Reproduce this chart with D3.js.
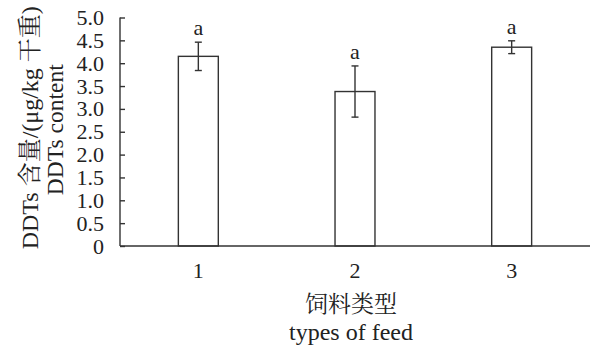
<!DOCTYPE html>
<html>
<head>
<meta charset="utf-8">
<script src="https://cdn.jsdelivr.net/npm/d3@7"></script>
<style>
  html, body { margin: 0; padding: 0; background: #fff; }
  svg text { font-family: "Liberation Serif", "Times New Roman", "Noto Serif CJK SC", "Noto Sans CJK SC", serif; fill: #222; }
</style>
</head>
<body>
<svg id="chart" width="590" height="350"></svg>
<script>
// Feed types and mean DDTs content (μg/kg dry weight) with error bars
const categories = ["1", "2", "3"];
const means = [4.15, 3.38, 4.35];
const errors = [0.31, 0.56, 0.14];
const letters = ["a", "a", "a"];
const yTicks = [0, 0.5, 1.0, 1.5, 2.0, 2.5, 3.0, 3.5, 4.0, 4.5, 5.0];

const svg = d3.select("#chart");
const margin = { left: 120, right: 0, top: 17.5, bottom: 104 };
const W = 590, H = 350;
const ink = "#333";

const x = d3.scaleBand()
  .domain(categories)
  .range([margin.left, W - margin.right])
  .paddingInner(0.745)
  .paddingOuter(0.3725);

const y = d3.scaleLinear()
  .domain([0, 5])
  .range([H - margin.bottom, margin.top]);

// Bars
svg.append("g").selectAll("rect")
  .data(categories)
  .join("rect")
  .attr("x", d => x(d))
  .attr("y", (d, i) => y(means[i]))
  .attr("width", x.bandwidth())
  .attr("height", (d, i) => y(0) - y(means[i]))
  .attr("fill", "#fff")
  .attr("stroke", ink)
  .attr("stroke-width", 1.4);

// Error bars with significance letters
const eb = svg.append("g").attr("stroke", ink).attr("stroke-width", 1.4);
categories.forEach((c, i) => {
  const cx = x(c) + x.bandwidth() / 2;
  const top = y(means[i] + errors[i]);
  const bot = y(means[i] - errors[i]);
  eb.append("line").attr("x1", cx).attr("x2", cx).attr("y1", top).attr("y2", bot);
  eb.append("line").attr("x1", cx - 3.5).attr("x2", cx + 3.5).attr("y1", top).attr("y2", top);
  eb.append("line").attr("x1", cx - 3.5).attr("x2", cx + 3.5).attr("y1", bot).attr("y2", bot);
  svg.append("text")
    .attr("x", cx)
    .attr("y", top - 7)
    .attr("text-anchor", "middle")
    .attr("font-size", 22)
    .text(letters[i]);
});

// Y axis with inward ticks
const yAxis = d3.axisLeft(y)
  .tickValues(yTicks)
  .tickSize(-5)
  .tickPadding(16)
  .tickFormat(d => d === 0 ? "0" : d3.format(".1f")(d));
const gy = svg.append("g")
  .attr("transform", `translate(${margin.left},0)`)
  .call(yAxis);
gy.select(".domain").attr("stroke", ink).attr("stroke-width", 1.4)
  .attr("d", `M0,${y(5)}V${y(0)}`);
gy.selectAll(".tick line").attr("stroke", ink).attr("stroke-width", 1.4);
gy.selectAll(".tick text").attr("font-size", 22).attr("fill", "#222")
  .attr("font-family", "Liberation Serif, serif");

// X axis: baseline without tick marks
const xAxis = d3.axisBottom(x).tickSize(0).tickPadding(16);
const gx = svg.append("g")
  .attr("transform", `translate(0,${y(0)})`)
  .call(xAxis);
gx.select(".domain").attr("stroke", ink).attr("stroke-width", 1.4)
  .attr("d", `M${margin.left},0H${W}`);
gx.selectAll(".tick text").attr("font-size", 22).attr("fill", "#222")
  .attr("font-family", "Liberation Serif, serif");

// Axis titles
const xMid = (margin.left + W) / 2;
svg.append("text").attr("x", xMid - 4).attr("y", 312)
  .attr("text-anchor", "middle").attr("font-size", 23)
  .text("饲料类型");
svg.append("text").attr("x", xMid - 4).attr("y", 340)
  .attr("text-anchor", "middle").attr("font-size", 24)
  .text("types of feed");

const yMid = (y(0) + y(5)) / 2;
svg.append("text")
  .attr("transform", `translate(38,${yMid - 4}) rotate(-90)`)
  .attr("text-anchor", "middle").attr("font-size", 24)
  .text("DDTs 含量/(μg/kg 干重)");
svg.append("text")
  .attr("transform", `translate(63,${yMid - 2}) rotate(-90)`)
  .attr("text-anchor", "middle").attr("font-size", 23.5)
  .text("DDTs content");
</script>
</body>
</html>
